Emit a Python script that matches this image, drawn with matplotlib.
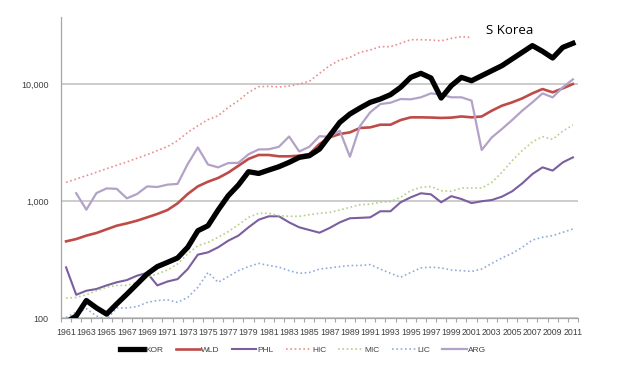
import numpy as np
import matplotlib
matplotlib.use("Agg")
import matplotlib.pyplot as plt
from matplotlib.ticker import FixedLocator, FuncFormatter, NullFormatter

nan = np.nan
years = list(range(1961, 2012))

KOR = [92, 104, 141, 122, 108, 132, 160, 195, 238, 275,
       299, 326, 402, 557, 615, 837, 1111, 1370, 1780, 1720,
       1840, 1965, 2140, 2360, 2440, 2780, 3610, 4700, 5540, 6240,
       6970, 7440, 8110, 9370, 11400, 12340, 11250, 7590, 9680, 11400,
       10670, 11780, 13000, 14350, 16370, 18660, 21300, 19030, 16690, 20570, 22280]
WLD = [452, 473, 506, 533, 573, 615, 644, 679, 725, 775,
       837, 955, 1148, 1334, 1462, 1573, 1750, 2000, 2290, 2474,
       2474, 2410, 2410, 2440, 2520, 3070, 3500, 3740, 3860, 4210,
       4260, 4490, 4490, 4920, 5190, 5190, 5170, 5130, 5160, 5280,
       5190, 5280, 5920, 6530, 6970, 7540, 8320, 9060, 8490, 9180, 10000]
PHL = [271, 158, 171, 177, 190, 202, 211, 230, 243, 190,
       205, 215, 262, 348, 364, 402, 458, 506, 596, 692,
       740, 740, 657, 596, 565, 536, 588, 657, 712, 718,
       725, 817, 817, 975, 1075, 1165, 1140, 975, 1100, 1040,
       960, 995, 1020, 1090, 1210, 1415, 1700, 1940, 1820, 2140, 2360]
HIC = [1445, 1540, 1650, 1760, 1890, 2020, 2160, 2320, 2490, 2700,
       2920, 3280, 3860, 4400, 4960, 5360, 6320, 7210, 8490, 9490,
       9550, 9430, 9610, 10000, 10540, 12330, 14350, 16040, 16890, 18660,
       19540, 20850, 20850, 22280, 23930, 23930, 23770, 23400, 24550, 25400,
       25000, nan, nan, nan, nan, nan, nan, nan, nan, nan, nan]
MIC = [148, 150, 158, 171, 183, 190, 190, 202, 223, 238,
       257, 290, 353, 415, 443, 490, 547, 628, 725, 785,
       785, 750, 740, 740, 764, 785, 800, 837, 883, 930,
       940, 975, 990, 1075, 1225, 1310, 1330, 1225, 1210, 1290,
       1290, 1290, 1445, 1760, 2210, 2700, 3200, 3550, 3370, 3950, 4470]
LIC = [101, 112, 120, 104, 97, 122, 122, 125, 136, 141,
       143, 136, 150, 183, 245, 202, 226, 254, 275, 293,
       281, 272, 254, 241, 245, 262, 268, 275, 281, 281,
       286, 262, 241, 223, 245, 268, 272, 268, 257, 254,
       250, 262, 293, 326, 357, 402, 464, 490, 506, 540, 577]
ARG = [nan, 1165, 843, 1170, 1282, 1270, 1054, 1148, 1334, 1317,
       1380, 1400, 2070, 2870, 2050, 1940, 2110, 2120, 2510, 2760,
       2770, 2910, 3560, 2650, 2910, 3580, 3540, 3990, 2390, 4380,
       5730, 6740, 6920, 7440, 7400, 7700, 8320, 8110, 7700, 7700,
       7210, 2730, 3500, 4130, 4920, 5920, 6970, 8320, 7690, 9370, 10960]

series = [
    ("KOR", KOR, dict(color="black", lw=3.8, ls="-")),
    ("WLD", WLD, dict(color="#BE4B48", lw=1.9, ls="-")),
    ("PHL", PHL, dict(color="#7B5EA0", lw=1.5, ls="-")),
    ("HIC", HIC, dict(color="#E8908E", lw=1.2, ls=(0, (1, 1.6)))),
    ("MIC", MIC, dict(color="#B5CF8A", lw=1.2, ls=(0, (1, 1.6)))),
    ("LIC", LIC, dict(color="#8FADDA", lw=1.2, ls=(0, (1, 1.6)))),
    ("ARG", ARG, dict(color="#B3A2C7", lw=1.6, ls="-")),
]

plt.rcParams['font.family'] = ['Liberation Sans', 'DejaVu Sans']

fig = plt.figure(figsize=(6.38, 3.68), dpi=100)
ax = fig.add_axes([61/638, 1-318/368, 517/638, 301/368])

handles = []
for name, vals, st in series:
    h, = ax.plot(years, vals, label=name, solid_joinstyle="round", **st)
    handles.append(h)
handles[0].set_zorder(5)

ax.set_yscale("log")
ax.set_ylim(100, 37400)
ax.set_xlim(1960.5, 2011.5)

ax.yaxis.set_major_locator(FixedLocator([100, 1000, 10000]))
ax.yaxis.set_minor_formatter(NullFormatter())
ax.yaxis.set_minor_locator(FixedLocator([]))
ax.yaxis.set_major_formatter(FuncFormatter(lambda v, p: f"{int(v):,}"))
ax.tick_params(axis="y", length=0, pad=9, labelsize=6.5, labelcolor="#404040")
ax.grid(axis="y", color="#BEBEBE", lw=1.1)
ax.set_axisbelow(True)

ax.xaxis.set_major_locator(FixedLocator(years[::2]))
ax.xaxis.set_major_formatter(FuncFormatter(lambda v, p: f"{int(round(v))}"))
ax.xaxis.set_minor_locator(FixedLocator(np.arange(1960.5, 2012, 1.0)))
ax.tick_params(axis="x", which="major", length=0, pad=7, labelsize=6.3, labelcolor="#404040")
ax.tick_params(axis="x", which="minor", length=3, width=0.8, color="#A6A6A6", direction="out")

for s in ["top", "right"]:
    ax.spines[s].set_visible(False)
for s in ["left", "bottom"]:
    ax.spines[s].set_color("#A6A6A6")
    ax.spines[s].set_linewidth(0.9)

ax.text((486-61)/517, (318-30)/301, "S Korea", transform=ax.transAxes,
        ha="left", va="center", fontsize=9.5, family=["Open Sans", "DejaVu Sans"], color="black")

fig.legend(handles=handles, loc="center", bbox_to_anchor=(303/638, 1-350/368), ncol=7,
           frameon=False, fontsize=6, handlelength=2.9, handletextpad=0.2,
           columnspacing=1.45, labelcolor="#404040")

fig.savefig("out.png", dpi=100)
